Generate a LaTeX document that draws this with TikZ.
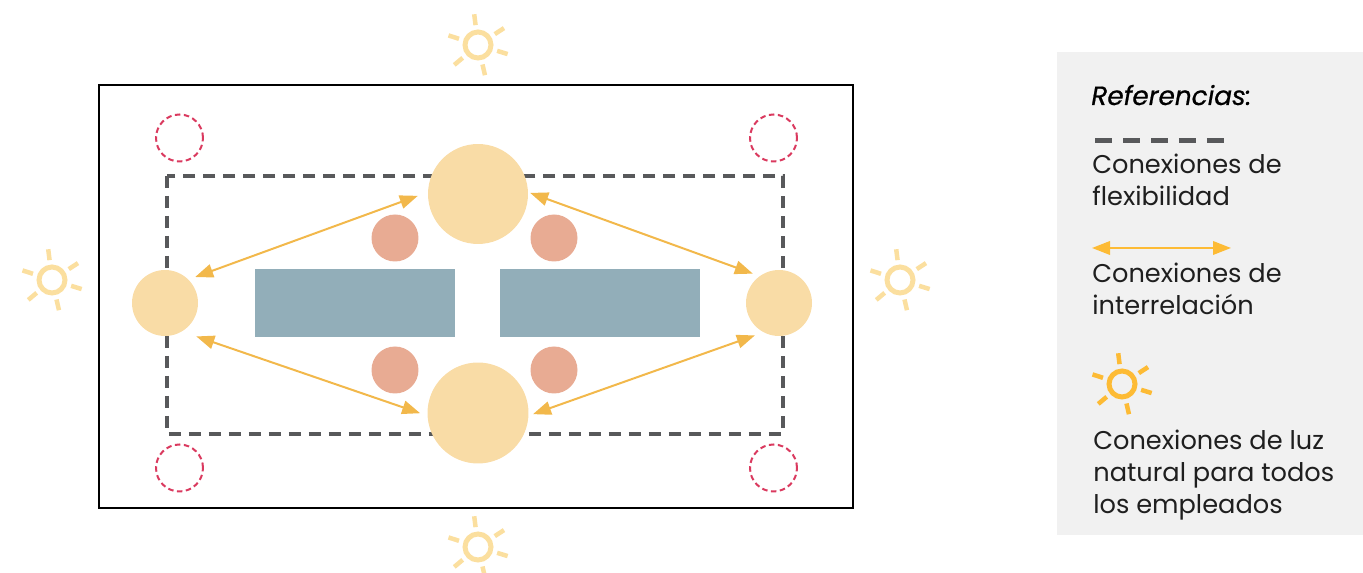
\documentclass[tikz,border=0pt]{standalone}
\usepackage{fontspec}
\setmainfont{Poppins}
\usetikzlibrary{arrows.meta}
\definecolor{hubcolor}{HTML}{F9DCA6}
\definecolor{deskcolor}{HTML}{92AEB9}
\definecolor{seatcolor}{HTML}{E8AB93}
\definecolor{plantcolor}{HTML}{DA3A5F}
\definecolor{flexcolor}{HTML}{58595B}
\definecolor{linkcolor}{HTML}{F2B84B}
\definecolor{legendcolor}{HTML}{FDBB35}
\definecolor{paleray}{HTML}{FBDF9F}
\definecolor{panelcolor}{HTML}{F1F1F1}
\tikzset{
	hub/.style={circle, fill=hubcolor, inner sep=0pt, minimum size=#1},
	seat/.style={circle, fill=seatcolor, inner sep=0pt, minimum size=0.94cm},
	plant/.style={circle, draw=plantcolor, line width=0.04cm, dash pattern=on 0.11cm off 0.07cm, inner sep=0pt, minimum size=0.94cm},
	desk/.style={fill=deskcolor, inner sep=0pt, minimum width=4cm, minimum height=1.36cm},
	flexline/.style={draw=flexcolor, line width=0.09cm, dash pattern=on 0.25cm off 0.15cm},
	link/.style={line width=0.04cm, {Triangle[width=0.27cm,length=0.36cm]}-{Triangle[width=0.27cm,length=0.36cm]}},
	sunring/.style={circle, draw=#1, line width=0.1cm, inner sep=0pt, minimum size=0.52cm},
	legendtext/.style={anchor=west, align=left, inner sep=0pt, font=\fontsize{14.6pt}{18.2pt}\selectfont, text=black!88},
}
\begin{document}
\begin{tikzpicture}[x=0.02cm,y=-0.02cm]
	\useasboundingbox (0,0) rectangle (1363,573);
	% plan
	\draw[line width=0.04cm] (99,85) rectangle (853,508);
	\draw[flexline] (167,176) rectangle (783,434);
	\foreach \x/\y/\name in {179.5/138/a,773.5/138/b,179.5/468/c,773.5/468/d}
		\node[plant] (plant\name) at (\x,\y) {};
	\node[desk] (deskL) at (355.3,303) {};
	\node[desk] (deskR) at (600.3,303) {};
	\foreach \x/\y/\name in {395/238/a,554/238/b,395/370/c,554/370/d}
		\node[seat] (seat\name) at (\x,\y) {};
	\node[hub=1.32cm] (hubW) at (165,303) {};
	\node[hub=1.32cm] (hubE) at (779,303) {};
	\node[hub=2cm] (hubN) at (478,194) {};
	\node[hub=2.02cm] (hubS) at (478,413) {};
	\draw[link, draw=linkcolor, shorten <=0.14cm, shorten >=0.21cm] (hubW.45) -- (hubN.178);
	\draw[link, draw=linkcolor, shorten <=0.14cm, shorten >=0.04cm] (hubE.126) -- (hubN.2);
	\draw[link, draw=linkcolor, shorten <=0.30cm, shorten >=0.15cm] (hubW.-59) -- (hubS.183);
	\draw[link, draw=linkcolor, shorten <=0.18cm, shorten >=0.09cm] (hubE.-118) -- (hubS.-3);
	% legend
	\fill[panelcolor] (1057,52) rectangle (1363,535);
	% suns
	\foreach \sx/\sy/\name/\col in {478/45/N/paleray,52/280/W/paleray,900/280/E/paleray,478/547/S/paleray,1122/384/Key/legendcolor}{
		\node[sunring=\col] (sun\name) at (\sx,\sy) {};
		\foreach \a in {263,-33,17,77,140,198}
			\draw[draw=\col, line width=0.09cm] ([shift={(\a:20)}]\sx,\sy) -- ([shift={(\a:31)}]\sx,\sy);
	}
	\node[anchor=base west, inner sep=0pt, font=\fontsize{15pt}{18.2pt}\selectfont\itshape\addfontfeatures{FakeBold=0.6}] (keyTitle) at (1091,105) {Referencias:};
	\coordinate (keyFlexA) at (1095,141);
	\coordinate (keyFlexB) at (1226,141);
	\draw[draw=flexcolor, line width=0.1cm, dash pattern=on 0.34cm off 0.22cm] (keyFlexA) -- (keyFlexB);
	\node[legendtext] (keyFlex) at (1092,180) {Conexiones de\\flexibilidad};
	\coordinate (keyLinkA) at (1092,248);
	\coordinate (keyLinkB) at (1231,248);
	\draw[link, draw=legendcolor] (keyLinkA) -- (keyLinkB);
	\node[legendtext] (keyLink) at (1092,289) {Conexiones de\\interrelación};
	\node[legendtext] (keyLight) at (1093,475) {Conexiones de luz\\natural para todos\\los empleados};
\end{tikzpicture}
\end{document}
